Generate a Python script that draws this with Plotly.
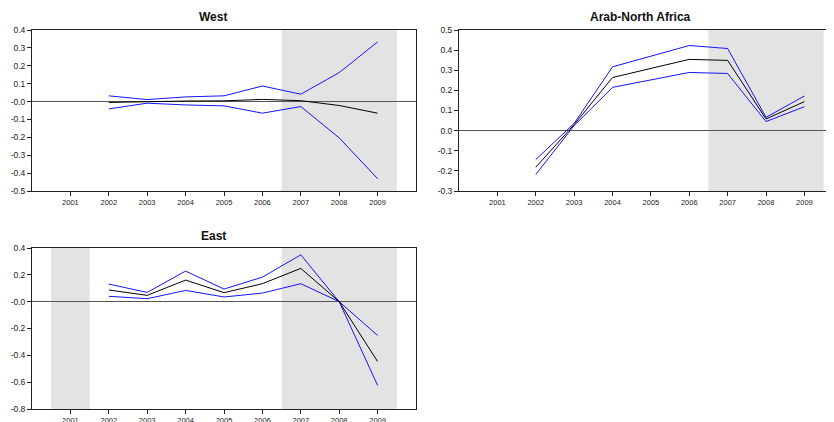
import plotly.graph_objects as go

years = [2002, 2003, 2004, 2005, 2006, 2007, 2008, 2009]
year_ticks = [2001, 2002, 2003, 2004, 2005, 2006, 2007, 2008, 2009]

west_upper = [0.032, 0.011, 0.026, 0.032, 0.087, 0.041, 0.162, 0.333]
west_mid = [-0.005, 0.001, 0.003, 0.004, 0.012, 0.005, -0.022, -0.065]
west_lower = [-0.041, -0.009, -0.019, -0.024, -0.065, -0.028, -0.203, -0.431]

arab_upper = [-0.144, 0.036, 0.317, 0.371, 0.423, 0.408, 0.066, 0.172]
arab_mid = [-0.182, 0.030, 0.264, 0.309, 0.354, 0.349, 0.058, 0.144]
arab_lower = [-0.218, 0.025, 0.215, 0.252, 0.289, 0.284, 0.045, 0.119]

east_upper = [0.131, 0.069, 0.228, 0.094, 0.183, 0.349, 0.0, -0.252]
east_mid = [0.087, 0.047, 0.161, 0.067, 0.134, 0.248, 0.0, -0.446]
east_lower = [0.040, 0.022, 0.084, 0.035, 0.064, 0.134, 0.0, -0.624]

west_yticks = [0.4, 0.3, 0.2, 0.1, 0.0, -0.1, -0.2, -0.3, -0.4, -0.5]
west_ylabels = ["0.4", "0.3", "0.2", "0.1", "-0.0", "-0.1", "-0.2", "-0.3", "-0.4", "-0.5"]
arab_yticks = [0.5, 0.4, 0.3, 0.2, 0.1, 0.0, -0.1, -0.2, -0.3]
arab_ylabels = ["0.5", "0.4", "0.3", "0.2", "0.1", "0.0", "-0.1", "-0.2", "-0.3"]
east_yticks = [0.4, 0.2, 0.0, -0.2, -0.4, -0.6, -0.8]
east_ylabels = ["0.4", "0.2", "-0.0", "-0.2", "-0.4", "-0.6", "-0.8"]

west_shade = [(2006.5, 2009.5)]
arab_shade = [(2006.5, 2009.5)]
east_shade = [(2000.5, 2001.5), (2006.5, 2009.5)]

# page body has an 8px margin; figure sized so it fits the 834x422 window
OFF = 8
W, H = 834 - OFF, 422 - OFF
BLUE = "#1414ff"
AX = "#222222"
FONT = "Liberation Sans, Arial, sans-serif"

def px_x(s):
    return (s - OFF) / W

def px_y(s):
    return 1 - (s - OFF) / H

fig = go.Figure()

panels = [
    ("x", "y", west_upper, west_mid, west_lower),
    ("x2", "y2", arab_upper, arab_mid, arab_lower),
    ("x3", "y3", east_upper, east_mid, east_lower),
]
for xa, ya, up, mid, lo in panels:
    for vals, col in ((up, BLUE), (lo, BLUE), (mid, "#000000")):
        fig.add_trace(go.Scatter(x=years, y=vals, mode="lines", xaxis=xa, yaxis=ya,
                                 line=dict(color=col, width=1), showlegend=False,
                                 hoverinfo="skip"))

def xaxis(domain, rng, mirror=True):
    return dict(domain=domain, range=rng, tickvals=year_ticks, ticktext=[str(t) for t in year_ticks],
                ticks="outside", ticklen=4, tickcolor=AX, showline=True, linecolor=AX,
                linewidth=1, mirror=mirror, showgrid=False, zeroline=False, automargin=False,
                tickfont=dict(family=FONT, size=7.5, color="#222"), fixedrange=True)

def yaxis(domain, rng, tv, tt, mirror=True):
    return dict(domain=domain, range=rng, tickvals=tv, ticktext=tt, ticks="outside", ticklen=4,
                tickcolor=AX, showline=True, linecolor=AX, linewidth=1, mirror=mirror,
                showgrid=False, zeroline=True, zerolinecolor="#555555", zerolinewidth=1.2,
                automargin=False,
                tickfont=dict(family=FONT, size=8.5, color="#222"), fixedrange=True)

top_dom = [px_y(191), px_y(30)]
bot_dom = [px_y(409), px_y(248)]
left_dom = [px_x(32), px_x(416)]
right_dom = [px_x(459), 1.0]
arab_xmax = 2000 + (834 - 459) / 38.375

fig.update_layout(
    width=W, height=H, margin=dict(l=0, r=0, t=0, b=0, autoexpand=False),
    plot_bgcolor="white", paper_bgcolor="white",
    xaxis=dict(xaxis(left_dom, [2000, 2010]), anchor="y"),
    yaxis=dict(yaxis(top_dom, [-0.5, 0.4], west_yticks, west_ylabels), anchor="x"),
    xaxis2=dict(xaxis(right_dom, [2000, arab_xmax]), anchor="y2"),
    yaxis2=dict(yaxis(top_dom, [-0.3, 0.5], arab_yticks, arab_ylabels, mirror=False), anchor="x2"),
    xaxis3=dict(xaxis(left_dom, [2000, 2010]), anchor="y3"),
    yaxis3=dict(yaxis(bot_dom, [-0.8, 0.4], east_yticks, east_ylabels), anchor="x3"),
)

shapes = []
for xref, yref, spans in (("x", "y", west_shade), ("x2", "y2", arab_shade), ("x3", "y3", east_shade)):
    for a, b in spans:
        shapes.append(dict(type="rect", xref=xref, yref=yref + " domain", x0=a, x1=b, y0=0, y1=1,
                           fillcolor="#e3e3e3", line=dict(width=0), layer="below"))
fig.update_layout(shapes=shapes)

titles = [("West", 213, 17), ("Arab-North Africa", 640, 17), ("East", 213, 236)]
for txt, x, y in titles:
    fig.add_annotation(text="<b>%s</b>" % txt, x=px_x(x), y=px_y(y), xref="paper", yref="paper",
                       showarrow=False, xanchor="center", yanchor="middle",
                       font=dict(family=FONT, size=12, color="#111"))

fig.write_html("out.html")
